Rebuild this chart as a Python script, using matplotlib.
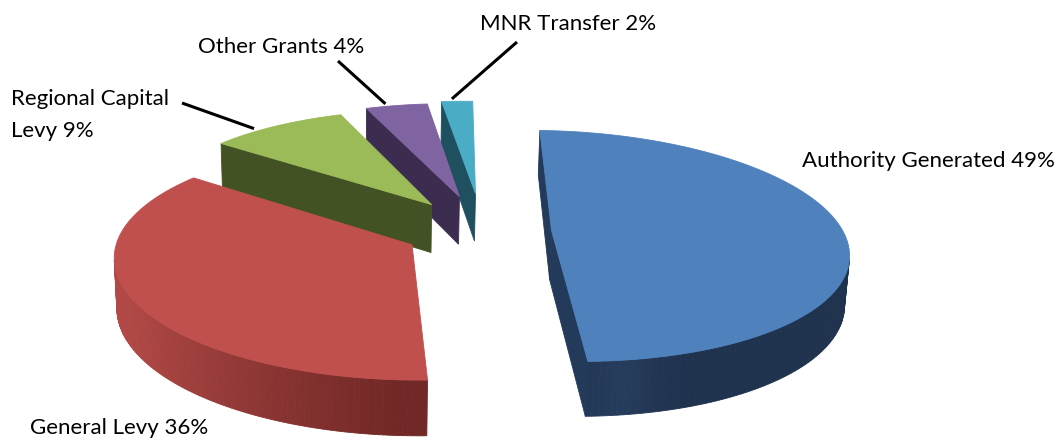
import numpy as np
import matplotlib
matplotlib.use("Agg")
import matplotlib.pyplot as plt
from matplotlib.patches import Polygon

plt.rcParams['font.family'] = ['Lato', 'DejaVu Sans']

labels = ["Authority Generated", "General Levy", "Regional Capital\nLevy", "Other Grants", "MNR Transfer"]
shares = [49, 36, 9, 4, 2]

top_cols = ["#4F81BD", "#C0504D", "#9BBB59", "#8064A2", "#4BACC6"]
cut_cols = ["#233A5A", "#6B2422", "#435224", "#3C2D50", "#1E505F"]
wall_dark = [(31, 50, 78), (105, 36, 34), (67, 82, 37), (60, 45, 80), (30, 80, 95)]
wall_light = [(75, 115, 165), (192, 80, 77), (155, 187, 89), (128, 100, 162), (75, 172, 198)]
explode = [0.236, 0.275, 0.290, 0.318, 0.340]

# 3d view: screen centre, focal length, camera distance, tilt, pie thickness,
# first slice rotation, sideways camera shift
u0, v0 = 366.4, 230.6
F, L = 2043.5, 7.02
tilt = 0.4005
H = 0.185
rot = 2.17
tx = -0.40

cum = np.concatenate([[0], np.cumsum(shares)]) * 3.6
cam = np.array([tx, -L * np.cos(tilt), L * np.sin(tilt)])


def project(X, Y, Z):
    X = np.asarray(X, float) - tx
    Y = np.asarray(Y, float)
    Z = np.asarray(Z, float)
    d = L + Y * np.cos(tilt) - Z * np.sin(tilt)
    up = Y * np.sin(tilt) + Z * np.cos(tilt)
    return u0 + F * X / d, v0 - F * up / d


def wall_colour(i, t):
    a = np.degrees(t)
    d1 = (a - 190 + 180) % 360 - 180
    d2 = (a - 278 + 180) % 360 - 180
    s = 0.85 * max(np.cos(np.radians(d1)), 0) ** 1.5 + 0.15 * np.exp(-(d2 / 6) ** 2)
    s = min(s, 1)
    c = np.array(wall_dark[i]) + (np.array(wall_light[i]) - np.array(wall_dark[i])) * s
    return c / 255


def geom(i):
    th0 = np.radians(90 - cum[i + 1] - rot)
    th1 = np.radians(90 - cum[i] - rot)
    tm = (th0 + th1) / 2
    return th0, th1, explode[i] * np.cos(tm), explode[i] * np.sin(tm)


def depth(i):
    th0, th1, vx, vy = geom(i)
    return vy + 0.5 * np.sin((th0 + th1) / 2)


fig = plt.figure(figsize=(10.61, 4.4), dpi=100)
ax = fig.add_axes([0, 0, 1, 1])
ax.set_xlim(0, 1061)
ax.set_ylim(440, 0)
ax.axis('off')

# back slices first
for i in sorted(range(len(shares)), key=depth, reverse=True):
    th0, th1, vx, vy = geom(i)
    P = np.array([vx, vy, 0])

    # cut faces
    for th, nrm in [(th0, th0 - np.pi / 2), (th1, th1 + np.pi / 2)]:
        n = np.array([np.cos(nrm), np.sin(nrm), 0])
        if (cam - P) @ n > 0:
            X = [vx, vx + np.cos(th), vx + np.cos(th), vx]
            Y = [vy, vy + np.sin(th), vy + np.sin(th), vy]
            u, v = project(X, Y, [0, 0, -H, -H])
            ax.add_patch(Polygon(np.c_[u, v], closed=True, fc=cut_cols[i], ec=cut_cols[i], lw=0.6))

    # outer wall
    t = np.linspace(th0, th1, 160)
    for k in range(len(t) - 1):
        mid = (t[k] + t[k + 1]) / 2
        n = np.array([np.cos(mid), np.sin(mid), 0])
        Q = np.array([vx + np.cos(mid), vy + np.sin(mid), 0])
        if (cam - Q) @ n > 0:
            tt = [t[k], t[k + 1], t[k + 1], t[k]]
            u, v = project(vx + np.cos(tt), vy + np.sin(tt), [0, 0, -H, -H])
            c = wall_colour(i, mid)
            ax.add_patch(Polygon(np.c_[u, v], closed=True, fc=c, ec=c, lw=0.6))

    # top face
    X = np.r_[vx, vx + np.cos(t)]
    Y = np.r_[vy, vy + np.sin(t)]
    u, v = project(X, Y, np.zeros_like(X))
    ax.add_patch(Polygon(np.c_[u, v], closed=True, fc=top_cols[i], ec=top_cols[i], lw=0.6))

# labels
fs = 16
ax.text(802, 167, f"{labels[0]} {shares[0]}%", fontsize=fs, va='baseline', ha='left')
ax.text(30, 434, f"{labels[1]} {shares[1]}%", fontsize=fs, va='baseline', ha='left')
ax.text(11, 105, "Regional Capital", fontsize=fs, va='baseline', ha='left')
ax.text(11, 137, f"Levy {shares[2]}%", fontsize=fs, va='baseline', ha='left')
ax.text(198, 53, f"{labels[3]} {shares[3]}%", fontsize=fs, va='baseline', ha='left')
ax.text(480, 30, f"{labels[4]} {shares[4]}%", fontsize=fs, va='baseline', ha='left')

# leader lines to the rim of each small slice
starts = {2: (182, 103), 3: (338, 61), 4: (517, 42)}
for i, (sx, sy) in starts.items():
    th0, th1, vx, vy = geom(i)
    tm = 0.35 * th0 + 0.65 * th1
    ex, ey = project(vx + 1.03 * np.cos(tm), vy + 1.03 * np.sin(tm), 0.0)
    ax.plot([sx, float(ex)], [sy, float(ey)], color='black', lw=2.2, solid_capstyle='butt')

fig.savefig("out.png", dpi=100)
